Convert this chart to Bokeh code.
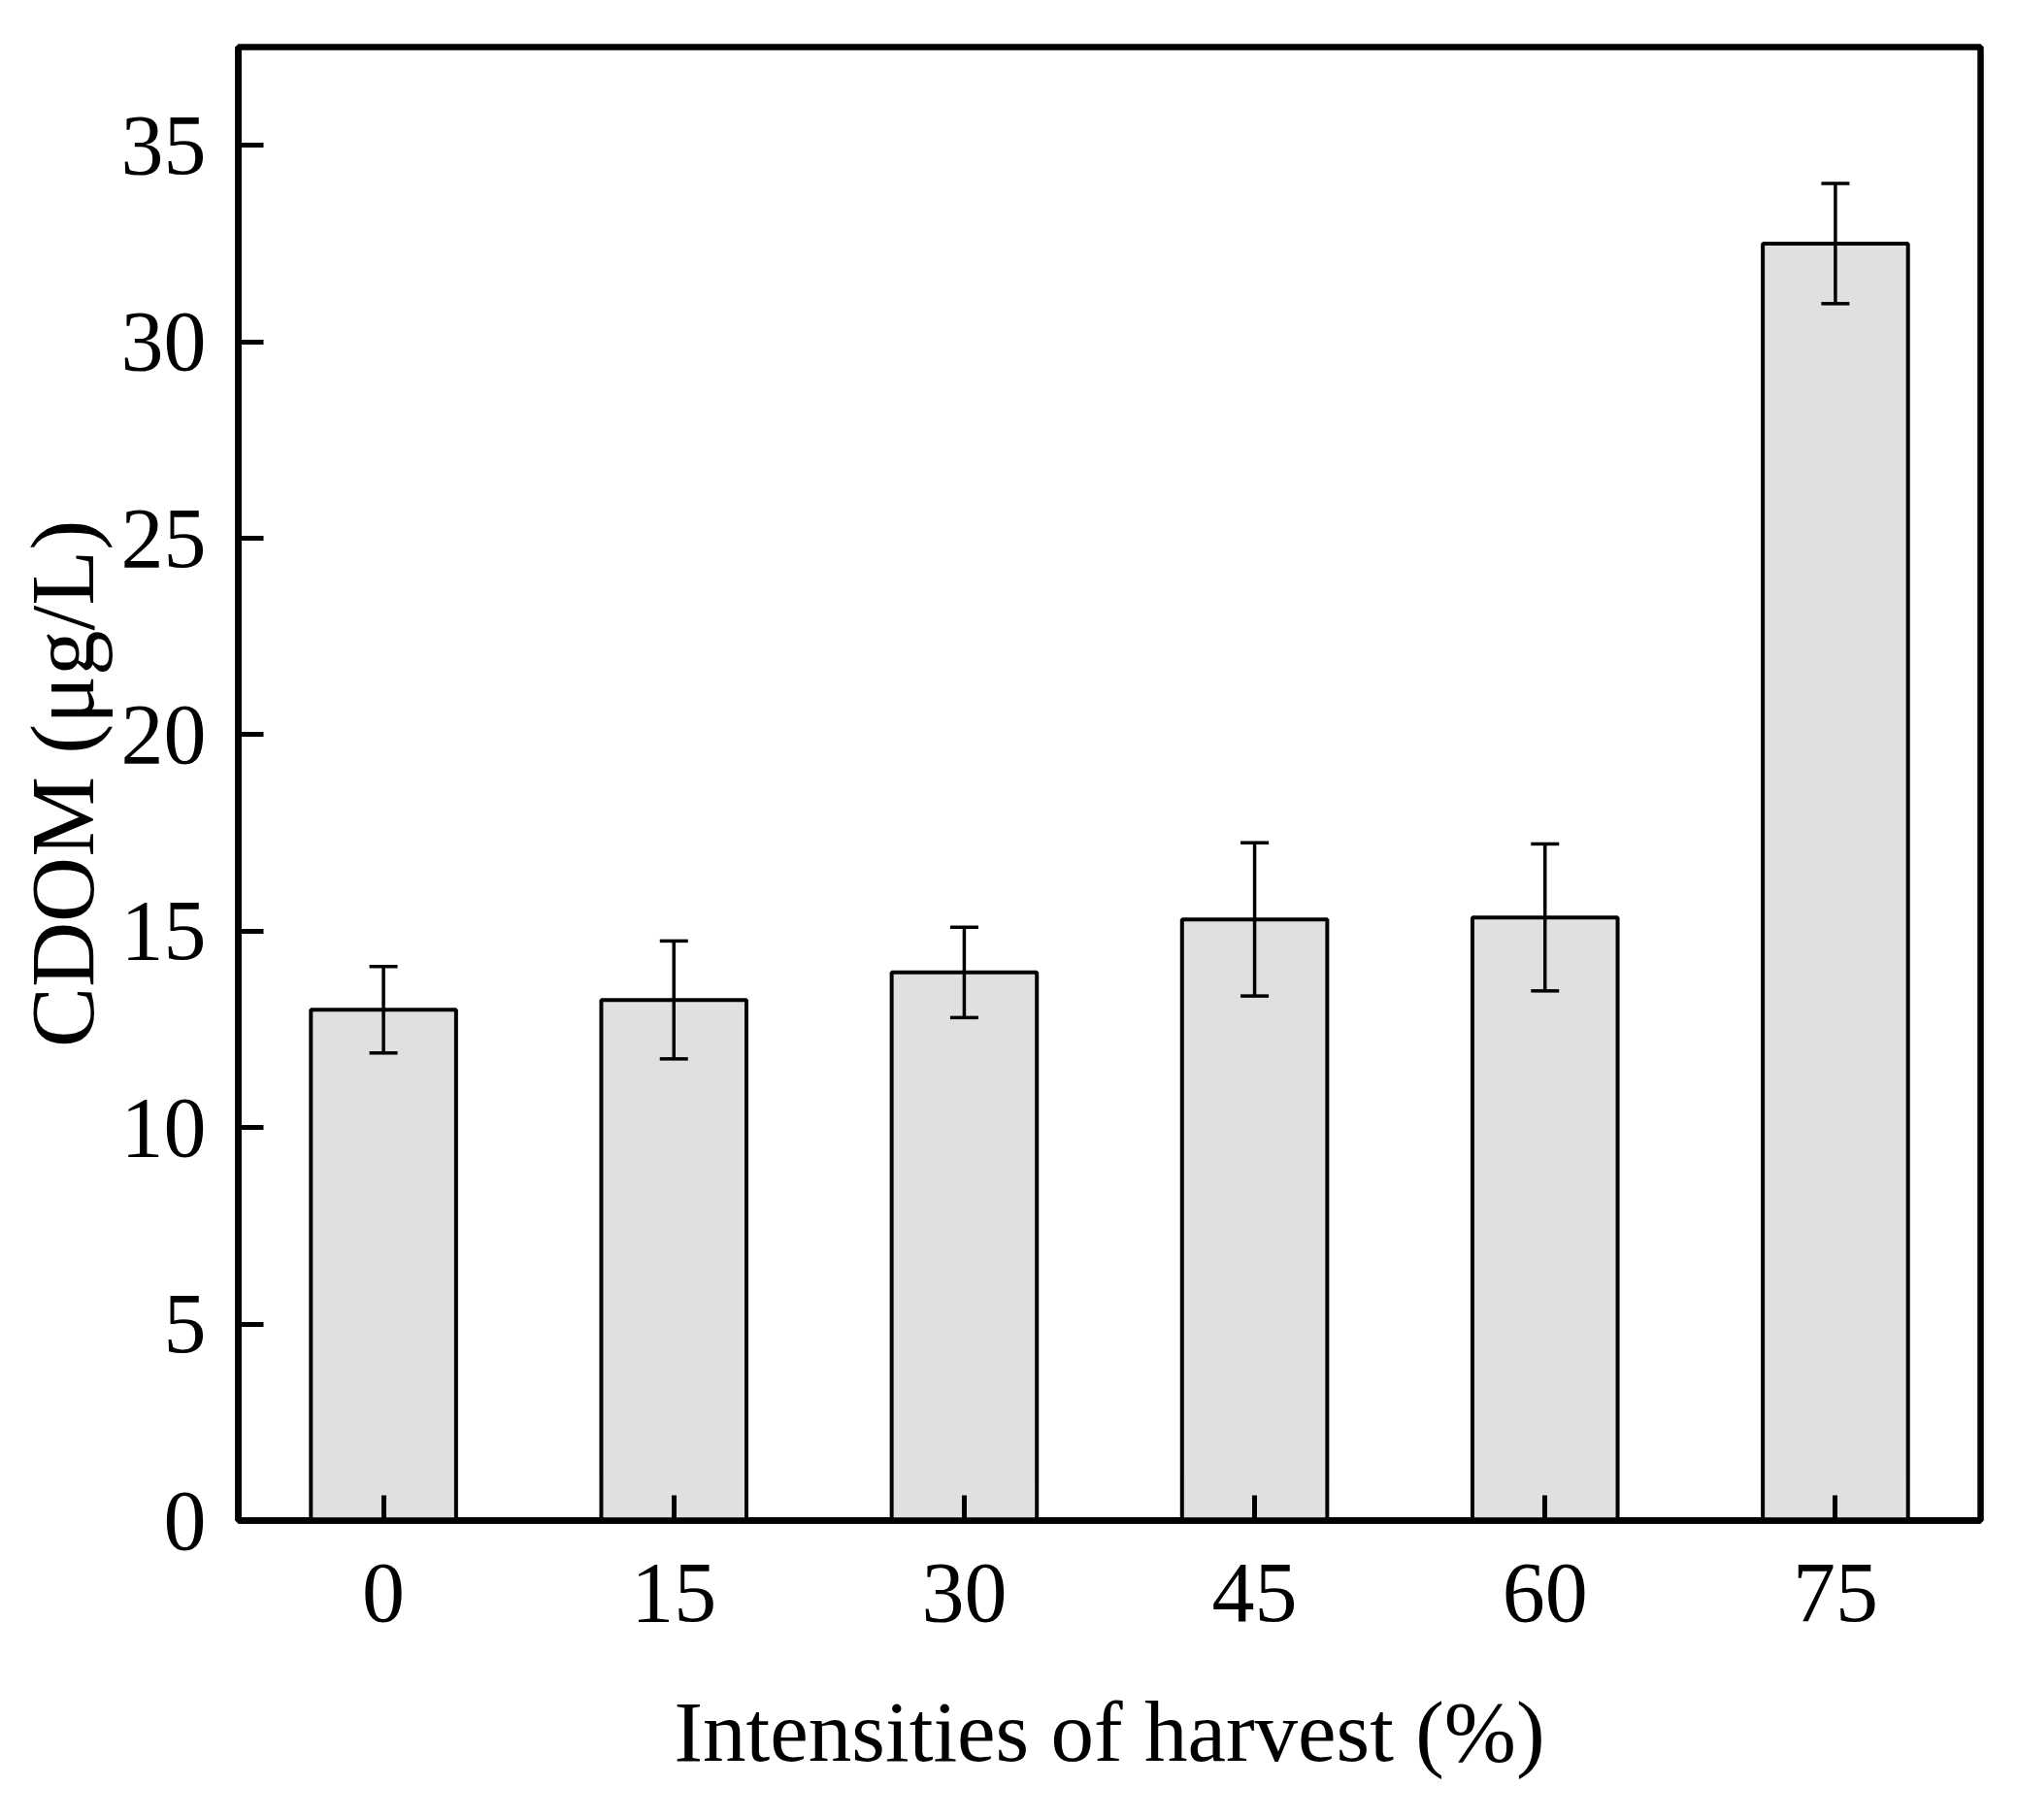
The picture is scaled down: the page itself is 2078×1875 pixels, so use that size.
from bokeh.plotting import figure
from bokeh.models import ColumnDataSource, Whisker, TeeHead, FactorRange, Range1d, FixedTicker
from bokeh.embed import file_html
from bokeh.resources import INLINE

categories = ["0", "15", "30", "45", "60", "75"]
cdom = [13.0, 13.25, 13.95, 15.3, 15.35, 32.5]
errors = [1.1, 1.5, 1.15, 1.95, 1.87, 1.53]
y_ticks = [0, 5, 10, 15, 20, 25, 30, 35]

source = ColumnDataSource(data=dict(
    x=categories,
    top=cdom,
    upper=[v + e for v, e in zip(cdom, errors)],
    lower=[v - e for v, e in zip(cdom, errors)],
))

FONT = "Liberation Serif"

p = figure(
    x_range=FactorRange(*categories),
    y_range=Range1d(0, 37.5),
    frame_width=1795, frame_height=1518,
    min_border_left=245, min_border_top=48, min_border_right=20, min_border_bottom=280,
    output_backend="svg", toolbar_location=None,
    background_fill_color="white", border_fill_color="white",
)

p.vbar(x="x", top="top", width=0.5, bottom=0, source=source,
       fill_color="#e0e0e0", line_color="black", line_width=4)

w = Whisker(source=source, base="x", upper="upper", lower="lower",
            line_color="black", line_width=3.5, level="overlay",
            upper_head=TeeHead(size=29, line_color="black", line_width=3.5),
            lower_head=TeeHead(size=29, line_color="black", line_width=3.5))
p.add_layout(w)

p.xgrid.visible = False
p.ygrid.visible = False
p.outline_line_color = "black"
p.outline_line_width = 6.5

for ax in (p.xaxis[0], p.yaxis[0]):
    ax.axis_line_width = 6.5
    ax.axis_line_color = "black"
    ax.major_tick_in = 26
    ax.major_tick_out = 0
    ax.major_tick_line_width = 5
    ax.major_tick_line_color = "black"
    ax.minor_tick_line_color = None
    ax.major_label_text_font = FONT
    ax.major_label_text_font_size = "88px"
    ax.major_label_text_color = "black"
    ax.axis_label_text_font = FONT
    ax.axis_label_text_font_style = "normal"
    ax.axis_label_text_color = "black"

p.yaxis.ticker = FixedTicker(ticks=y_ticks)
p.yaxis.major_label_standoff = 33
p.yaxis.axis_label = "CDOM (μg/L)"
p.yaxis.axis_label_text_font_size = "93px"
p.yaxis.axis_label_standoff = 6

p.xaxis.major_label_standoff = 45
p.xaxis.axis_label = "Intensities of harvest (%)"
p.xaxis.axis_label_text_font_size = "89px"
p.xaxis.axis_label_standoff = 62
p.xaxis.group_text_font_size = "0px"

open("out.html", "w").write(file_html(p, INLINE))
